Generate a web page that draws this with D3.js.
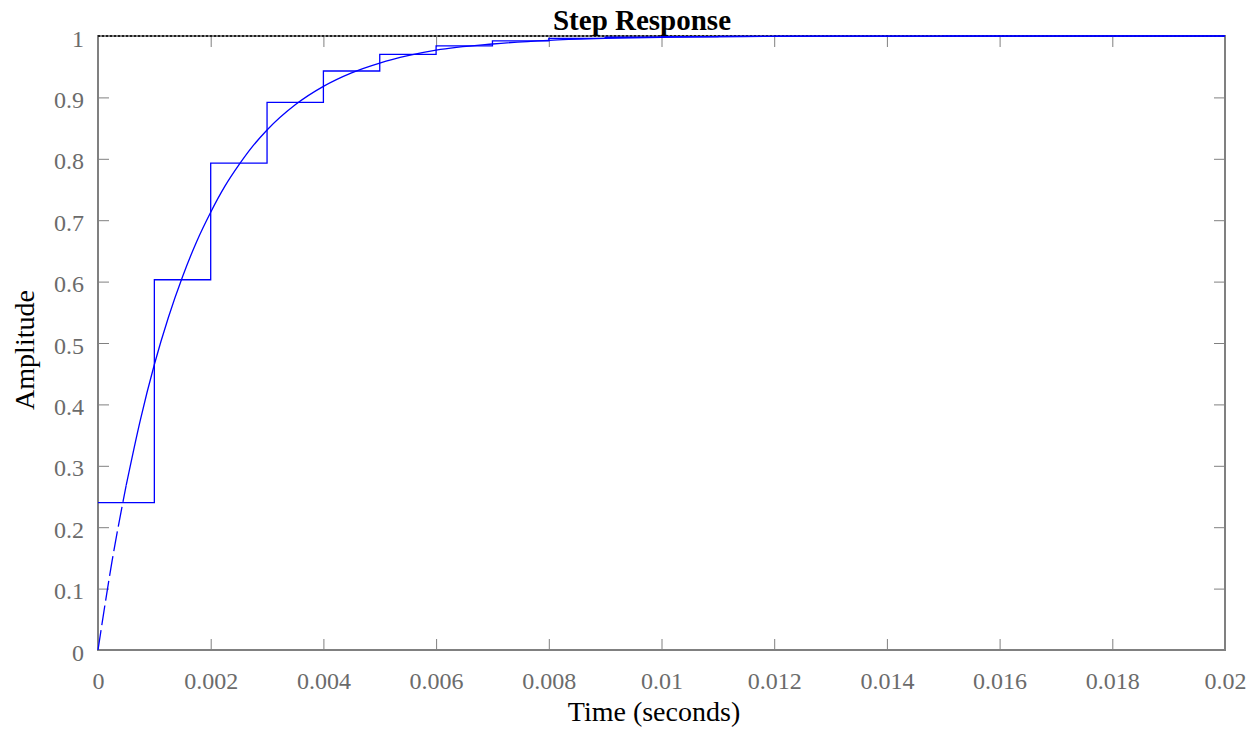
<!DOCTYPE html>
<html>
<head>
<meta charset="utf-8">
<script src="https://cdn.jsdelivr.net/npm/d3@7"></script>
<style>
  body { margin: 0; background: #fff; }
  svg { font-family: "Liberation Serif", "Times New Roman", serif; }
</style>
</head>
<body>
<div id="chart"></div>
<script>
// Continuous step response (seconds, amplitude)
const contTime = [0, 0.00025, 0.0005, 0.00075, 0.001, 0.00125, 0.0015, 0.00175,
  0.002, 0.00225, 0.0025, 0.00275, 0.003, 0.0035, 0.004, 0.0045, 0.005, 0.0055,
  0.006, 0.007, 0.008, 0.009, 0.01, 0.012, 0.014, 0.016, 0.02];
const contValue = [0, 0.145, 0.268, 0.374, 0.465, 0.542, 0.608, 0.665,
  0.713, 0.755, 0.790, 0.821, 0.847, 0.888, 0.918, 0.940, 0.956, 0.968,
  0.977, 0.987, 0.993, 0.996, 0.998, 0.9994, 0.9998, 0.9999, 1.0];
// the first part of the continuous curve is drawn dashed up to this time
const dashedUntil = 0.0005;

// Discrete (sampled) response, one level per sample period
const discTime = [0, 0.001, 0.002, 0.003, 0.004, 0.005, 0.006, 0.007, 0.008, 0.009,
  0.01, 0.011, 0.012, 0.013, 0.014, 0.015, 0.016, 0.017, 0.018, 0.019, 0.02];
const discValue = [0.240, 0.603, 0.793, 0.892, 0.943, 0.970, 0.984, 0.992, 0.996, 0.998,
  0.999, 0.9995, 0.9997, 0.9999, 0.9999, 1.0, 1.0, 1.0, 1.0, 1.0, 1.0];

const steadyState = 1;

const xTickValues = [0, 0.002, 0.004, 0.006, 0.008, 0.01, 0.012, 0.014, 0.016, 0.018, 0.02];
const xTickLabels = ["0", "0.002", "0.004", "0.006", "0.008", "0.01", "0.012", "0.014", "0.016", "0.018", "0.02"];
const yTickValues = [0, 0.1, 0.2, 0.3, 0.4, 0.5, 0.6, 0.7, 0.8, 0.9, 1];
const yTickLabels = ["0", "0.1", "0.2", "0.3", "0.4", "0.5", "0.6", "0.7", "0.8", "0.9", "1"];

const titleText = "Step Response";
const xLabel = "Time (seconds)";
const yLabel = "Amplitude";

const W = 1257, H = 731;
const margin = { top: 36, right: 32, bottom: 81, left: 98 };
const width = W - margin.left - margin.right;
const height = H - margin.top - margin.bottom;

const axisColor = "#808080";
const textColor = "#6b6b6b";
const tick = 11;

const svg = d3.select("#chart").append("svg")
  .attr("width", W)
  .attr("height", H)
  .append("g")
  .attr("transform", `translate(${margin.left},${margin.top})`);

const x = d3.scaleLinear().domain([0, 0.02]).range([0, width]);
const y = d3.scaleLinear().domain([0, 1]).range([height, 0]);

// axes, ticks point inward on all four sides
function styleAxis(g) {
  g.select(".domain").remove();
  g.selectAll(".tick line").attr("stroke", axisColor).attr("stroke-width", 1);
  g.selectAll(".tick text").attr("fill", textColor).style("font-size", "24px")
    .style("font-family", "Liberation Serif, Times New Roman, serif");
}

svg.append("g")
  .attr("transform", `translate(0,${height})`)
  .call(d3.axisBottom(x).tickValues(xTickValues)
    .tickFormat((d, i) => xTickLabels[i]).tickSizeInner(-tick).tickSizeOuter(0).tickPadding(22))
  .call(styleAxis);

svg.append("g")
  .call(d3.axisLeft(y).tickValues(yTickValues)
    .tickFormat((d, i) => yTickLabels[i]).tickSizeInner(-tick).tickSizeOuter(0).tickPadding(14))
  .call(styleAxis)
  .call(g => g.selectAll(".tick text").attr("dy", "0.42em"));

svg.append("g")
  .call(d3.axisTop(x).tickValues(xTickValues).tickFormat("").tickSizeInner(-tick).tickSizeOuter(0))
  .call(styleAxis);

svg.append("g")
  .attr("transform", `translate(${width},0)`)
  .call(d3.axisRight(y).tickValues(yTickValues).tickFormat("").tickSizeInner(-tick).tickSizeOuter(0))
  .call(styleAxis);

// box
svg.append("rect")
  .attr("x", 0).attr("y", 0)
  .attr("width", width).attr("height", height)
  .attr("fill", "none")
  .attr("stroke", axisColor)
  .attr("stroke-width", 2);

// steady state line
svg.append("line")
  .attr("x1", x(0)).attr("x2", x(0.02))
  .attr("y1", y(steadyState)).attr("y2", y(steadyState))
  .attr("stroke", "#000")
  .attr("stroke-width", 1.3)
  .attr("stroke-dasharray", "2,2");

const contData = contTime.map((t, i) => ({ t: t, v: contValue[i] }));
const discData = discTime.map((t, i) => ({ t: t, v: discValue[i] }));

const line = d3.line().x(d => x(d.t)).y(d => y(d.v));

svg.append("path")
  .datum(discData)
  .attr("fill", "none")
  .attr("stroke", "#0000ff")
  .attr("stroke-width", 1.3)
  .attr("d", line.curve(d3.curveStepAfter));

line.curve(d3.curveMonotoneX);

svg.append("path")
  .datum(contData.filter(d => d.t <= dashedUntil))
  .attr("fill", "none")
  .attr("stroke", "#0000ff")
  .attr("stroke-width", 1.3)
  .attr("stroke-dasharray", "20,5")
  .attr("d", line);

svg.append("path")
  .datum(contData.filter(d => d.t >= dashedUntil))
  .attr("fill", "none")
  .attr("stroke", "#0000ff")
  .attr("stroke-width", 1.3)
  .attr("d", line);

// texts
svg.append("text")
  .attr("x", 544)
  .attr("y", -6)
  .attr("text-anchor", "middle")
  .style("font-size", "29px")
  .style("font-weight", "bold")
  .attr("fill", "#000")
  .text(titleText);

svg.append("text")
  .attr("x", 556)
  .attr("y", height + 71)
  .attr("text-anchor", "middle")
  .style("font-size", "28px")
  .attr("fill", "#000")
  .text(xLabel);

svg.append("text")
  .attr("transform", `translate(${-64},${height / 2 + 7}) rotate(-90)`)
  .attr("text-anchor", "middle")
  .style("font-size", "28px")
  .attr("fill", "#000")
  .text(yLabel);
</script>
</body>
</html>
